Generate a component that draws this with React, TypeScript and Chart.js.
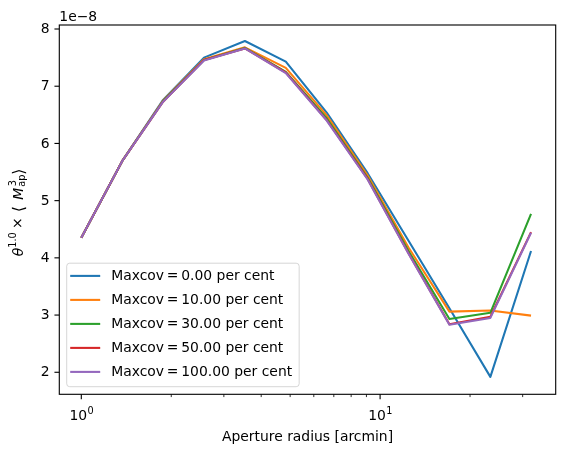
import React, { useEffect, useRef } from "react";
import { Chart, registerables } from "chart.js";

Chart.register(...registerables);

// ---- data (values in units of 1e-8) ----
const APERTURE_RADII = [1.0, 1.37, 1.878, 2.574, 3.528, 4.835, 6.627, 9.084, 12.45, 17.06, 23.39, 32.0];
const SERIES_LABELS = [
  "Maxcov\u2009=\u20090.00 per cent",
  "Maxcov\u2009=\u200910.00 per cent",
  "Maxcov\u2009=\u200930.00 per cent",
  "Maxcov\u2009=\u200950.00 per cent",
  "Maxcov\u2009=\u2009100.00 per cent",
];
const MAXCOV_0 = [4.35, 5.69, 6.76, 7.5, 7.79, 7.43, 6.54, 5.48, 4.3, 3.12, 1.92, 4.12];
const MAXCOV_10 = [4.35, 5.69, 6.75, 7.47, 7.68, 7.32, 6.49, 5.44, 4.18, 3.06, 3.08, 2.99];
const MAXCOV_30 = [4.35, 5.69, 6.74, 7.46, 7.67, 7.25, 6.44, 5.4, 4.12, 2.93, 3.04, 4.77];
const MAXCOV_50 = [4.35, 5.69, 6.73, 7.46, 7.66, 7.24, 6.41, 5.38, 4.08, 2.84, 2.97, 4.45];
const MAXCOV_100 = [4.35, 5.69, 6.73, 7.45, 7.66, 7.23, 6.4, 5.37, 4.07, 2.83, 2.95, 4.44];
const SERIES_VALUES = [MAXCOV_0, MAXCOV_10, MAXCOV_30, MAXCOV_50, MAXCOV_100];
const SERIES_COLORS = ["#1f77b4", "#ff7f0e", "#2ca02c", "#d62728", "#9467bd"];

const Y_TICKS = [2, 3, 4, 5, 6, 7, 8];
const X_MAJOR_TICKS = [1, 10];
const X_MAJOR_LABELS = ["0", "1"]; // exponents of 10
const X_MINOR_TICKS = [2, 3, 4, 5, 6, 7, 8, 9, 20, 30];
const OFFSET_TEXT = "1e\u22128";
const X_LABEL = "Aperture radius [arcmin]";

const FONT = "'DejaVu Sans', sans-serif";
const FS = 13.9;
const SUP = FS * 0.7;

const W = 564;
const H = 452;
const AREA = { left: 59.3, right: 555.7, top: 25, bottom: 394.3 };

function inkText(ctx: CanvasRenderingContext2D, t: string, font: string, start: number, dy: number) {
  ctx.font = font;
  const m = ctx.measureText(t);
  const abl = m.actualBoundingBoxLeft || 0;
  ctx.fillText(t, start + abl, dy);
}

const decorPlugin = {
  id: "decor",
  afterDraw(chart: any) {
    const ctx: CanvasRenderingContext2D = chart.ctx;
    const { left, right, top, bottom } = chart.chartArea;
    const xs = chart.scales.x;
    const ys = chart.scales.y;
    ctx.save();
    // frame
    ctx.strokeStyle = "#000";
    ctx.lineWidth = 1.11;
    ctx.strokeRect(left, top, right - left, bottom - top);

    // y ticks
    ctx.fillStyle = "#000";
    ctx.font = `${FS}px ${FONT}`;
    ctx.textAlign = "right";
    ctx.textBaseline = "middle";
    ys.ticks.forEach((t: any) => {
      const py = ys.getPixelForValue(t.value);
      ctx.beginPath();
      ctx.moveTo(left - 4.86, py);
      ctx.lineTo(left, py);
      ctx.stroke();
      ctx.fillText(String(t.value), left - 9.7, py + 0.5);
    });

    // x ticks
    xs.ticks.forEach((t: any) => {
      const px = xs.getPixelForValue(t.value);
      const len = t.major ? 4.86 : 2.78;
      ctx.lineWidth = t.major ? 1.11 : 0.83;
      ctx.beginPath();
      ctx.moveTo(px, bottom);
      ctx.lineTo(px, bottom + len);
      ctx.stroke();
    });
    ctx.lineWidth = 1.11;
    // x major labels 10^n
    X_MAJOR_TICKS.forEach((v, i) => {
      const px = xs.getPixelForValue(v);
      ctx.font = `${FS}px ${FONT}`;
      const wBase = ctx.measureText("10").width;
      ctx.font = `${SUP}px ${FONT}`;
      const wSup = ctx.measureText(X_MAJOR_LABELS[i]).width;
      const x0 = px - (wBase + wSup) / 2;
      const base = bottom + 25.2;
      ctx.textAlign = "left";
      ctx.textBaseline = "alphabetic";
      ctx.font = `${FS}px ${FONT}`;
      ctx.fillText("10", x0, base);
      ctx.font = `${SUP}px ${FONT}`;
      ctx.fillText(X_MAJOR_LABELS[i], x0 + wBase + 0.5, base - 6);
    });

    // x label
    ctx.font = `${FS}px ${FONT}`;
    ctx.textAlign = "center";
    ctx.textBaseline = "alphabetic";
    ctx.fillText(X_LABEL, (left + right) / 2, bottom + 46.4);

    // offset text
    ctx.textAlign = "left";
    ctx.fillText(OFFSET_TEXT, left, top - 4.5);

    // y label (rotated), pieces placed along the axis from the label's start
    ctx.save();
    const startY = (top + bottom) / 2 + 46.6;
    ctx.translate(23.3, startY);
    ctx.rotate(-Math.PI / 2);
    ctx.textAlign = "left";
    ctx.textBaseline = "alphabetic";
    const big = `${FS * 1.15}px ${FONT}`;
    inkText(ctx, "\u03b8", `italic ${FS}px ${FONT}`, 0, 0);
    inkText(ctx, "1.0", `${SUP}px ${FONT}`, 9.6, -7);
    inkText(ctx, "\u00d7", `${FS}px ${FONT}`, 28.3, -1);
    inkText(ctx, "\u27e8", big, 45, 1);
    inkText(ctx, "M", `italic ${FS}px ${FONT}`, 56.5, 0);
    inkText(ctx, "3", `${SUP}px ${FONT}`, 70, -7.3);
    inkText(ctx, "ap", `${SUP}px ${FONT}`, 69.5, 1.2);
    inkText(ctx, "\u27e9", big, 82.5, 1);
    ctx.restore();

    // legend
    const lx = left + 7.4;
    const lyBottom = bottom - 7.6;
    const rowH = 24;
    const n = chart.data.datasets.length;
    ctx.font = `${FS}px ${FONT}`;
    let maxW = 0;
    chart.data.datasets.forEach((d: any) => {
      maxW = Math.max(maxW, ctx.measureText(d.label).width);
    });
    const boxW = 44.5 + maxW + 7;
    const boxH = n * rowH + 3.5;
    const ly = lyBottom - boxH;
    ctx.beginPath();
    (ctx as any).roundRect(lx, ly, boxW, boxH, 3);
    ctx.fillStyle = "rgba(255,255,255,0.8)";
    ctx.fill();
    ctx.strokeStyle = "rgba(204,204,204,0.8)";
    ctx.lineWidth = 1;
    ctx.stroke();
    chart.data.datasets.forEach((d: any, i: number) => {
      const ry = ly + 12.7 + i * rowH;
      ctx.strokeStyle = d.borderColor;
      ctx.lineWidth = 2.08;
      ctx.beginPath();
      ctx.moveTo(lx + 3.5, ry);
      ctx.lineTo(lx + 33.5, ry);
      ctx.stroke();
      ctx.fillStyle = "#000";
      ctx.textAlign = "left";
      ctx.textBaseline = "middle";
      ctx.fillText(d.label, lx + 44.5, ry + 0.5);
    });
    ctx.restore();
  },
};

export default function App() {
  const ref = useRef<HTMLCanvasElement | null>(null);
  useEffect(() => {
    document.body.style.margin = "0";
    const canvas = ref.current;
    if (!canvas) return;
    const datasets = SERIES_VALUES.map((vals, i) => ({
      label: SERIES_LABELS[i],
      data: APERTURE_RADII.map((r, j) => ({ x: r, y: vals[j] })),
      borderColor: SERIES_COLORS[i],
      backgroundColor: SERIES_COLORS[i],
      borderWidth: 2.08,
      pointRadius: 0,
      tension: 0,
      fill: false,
      order: SERIES_VALUES.length - 1 - i,
      borderJoinStyle: "round" as const,
      borderCapStyle: "butt" as const,
    }));
    const chart = new Chart(canvas, {
      type: "line",
      data: { datasets },
      options: {
        animation: false,
        responsive: false,
        devicePixelRatio: window.devicePixelRatio || 1,
        layout: { padding: { left: 0, right: W - AREA.right, top: AREA.top, bottom: 0 } },
        plugins: { legend: { display: false }, tooltip: { enabled: false } },
        events: [],
        scales: {
          x: {
            type: "logarithmic",
            min: 0.844,
            max: 38.7,
            grid: { display: false },
            border: { display: false },
            ticks: { display: false },
            afterBuildTicks: (s: any) => {
              s.ticks = [
                ...X_MAJOR_TICKS.map((v) => ({ value: v, major: true })),
                ...X_MINOR_TICKS.map((v) => ({ value: v, major: false })),
              ];
            },
            afterFit: (s: any) => {
              s.height = H - AREA.bottom;
            },
          },
          y: {
            type: "linear",
            min: 1.615,
            max: 8.07,
            grid: { display: false },
            border: { display: false },
            ticks: { display: false },
            afterBuildTicks: (s: any) => {
              s.ticks = Y_TICKS.map((v) => ({ value: v }));
            },
            afterFit: (s: any) => {
              s.width = AREA.left;
            },
          },
        },
      } as any,
      plugins: [decorPlugin],
    });
    return () => chart.destroy();
  }, []);
  return (
    <div style={{ width: W, height: H, background: "#fff" }}>
      <canvas ref={ref} width={W} height={H} style={{ display: "block", width: W, height: H }} />
    </div>
  );
}
